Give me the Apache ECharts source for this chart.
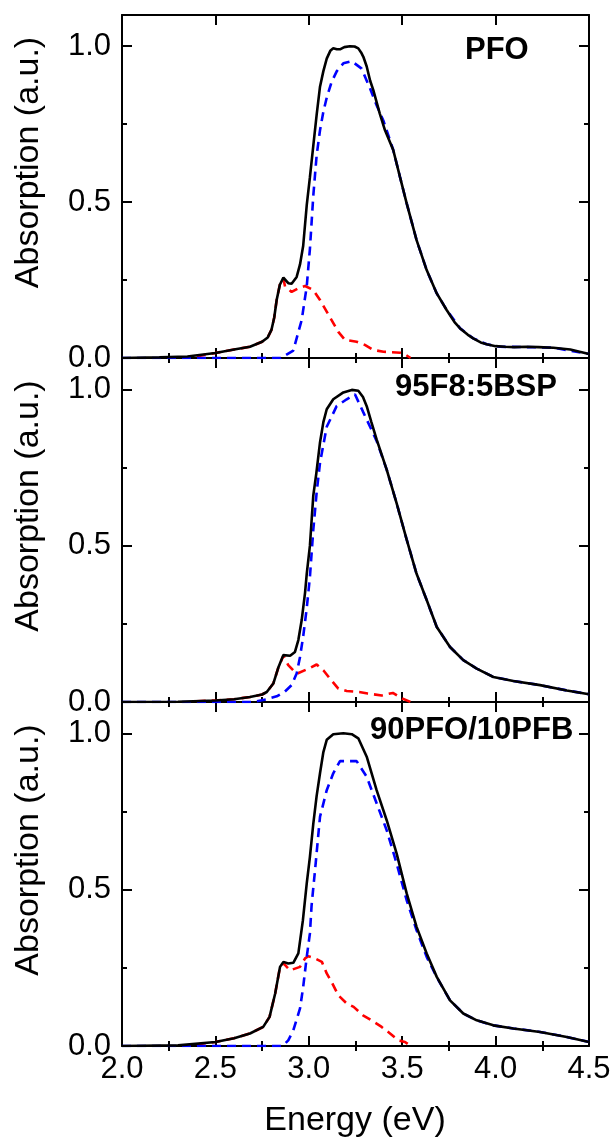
<!DOCTYPE html>
<html>
<head>
<meta charset="utf-8">
<script src="https://cdn.jsdelivr.net/npm/echarts@6/dist/echarts.min.js"></script>
<style>
html,body{margin:0;padding:0;background:#fff;}
#chart{width:616px;height:1143px;}
</style>
</head>
<body>
<div id="chart"></div>
<script>
// ---- tick values ----
const xMajorTicks = [2.0, 2.5, 3.0, 3.5, 4.0, 4.5];
const xMinorTicks = [2.25, 2.75, 3.25, 3.75, 4.25];
const yMajorTicks = [0.0, 0.5, 1.0];
const yMinorTicks = [0.25, 0.75];
const panelLabels = ['PFO', '95F8:5BSP', '90PFO/10PFB'];

// ---- Panel 1: PFO ----
const pfoTotal = [[2.0,0.0],[2.2,0.002],[2.35,0.005],[2.5,0.016],[2.6,0.027],[2.685,0.036],[2.75,0.052],[2.78,0.066],[2.80,0.09],[2.815,0.13],[2.828,0.186],[2.845,0.235],[2.864,0.258],[2.89,0.24],[2.908,0.238],[2.935,0.26],[2.953,0.30],[2.97,0.36],[2.989,0.49],[3.006,0.58],[3.024,0.68],[3.042,0.78],[3.06,0.87],[3.078,0.92],[3.096,0.96],[3.115,0.985],[3.131,0.993],[3.15,0.99],[3.167,0.99],[3.19,0.997],[3.22,1.0],[3.245,0.999],[3.265,0.993],[3.28,0.98],[3.292,0.966],[3.31,0.935],[3.328,0.89],[3.345,0.86],[3.38,0.784],[3.408,0.73],[3.452,0.667],[3.488,0.581],[3.524,0.496],[3.577,0.378],[3.631,0.282],[3.685,0.207],[3.738,0.154],[3.78,0.115],[3.81,0.095],[3.85,0.075],[3.88,0.063],[3.92,0.05],[3.952,0.044],[4.0,0.038],[4.05,0.036],[4.1,0.035],[4.166,0.036],[4.23,0.035],[4.309,0.033],[4.4,0.027],[4.45,0.02],[4.5,0.013]];
const pfoMain = [[2.0,0.0],[2.85,0.0],[2.917,0.024],[2.962,0.122],[2.989,0.23],[3.006,0.35],[3.024,0.52],[3.042,0.65],[3.06,0.73],[3.078,0.79],[3.096,0.835],[3.122,0.885],[3.15,0.92],[3.185,0.945],[3.23,0.952],[3.283,0.928],[3.328,0.864],[3.36,0.815],[3.40,0.76],[3.452,0.667],[3.488,0.581],[3.524,0.496],[3.577,0.378],[3.631,0.282],[3.685,0.207],[3.738,0.154],[3.81,0.095],[3.88,0.063],[3.952,0.044],[4.024,0.036],[4.166,0.035],[4.309,0.033],[4.5,0.013]];
const pfoBeta = [[2.4,0.005],[2.5,0.016],[2.6,0.027],[2.685,0.036],[2.75,0.052],[2.78,0.066],[2.80,0.09],[2.815,0.13],[2.828,0.186],[2.845,0.235],[2.864,0.255],[2.873,0.229],[2.908,0.212],[2.95,0.225],[2.98,0.231],[3.024,0.218],[3.06,0.186],[3.158,0.084],[3.194,0.058],[3.256,0.052],[3.30,0.042],[3.345,0.026],[3.40,0.02],[3.49,0.017],[3.506,0.015],[3.545,0.0]];

// ---- Panel 2: 95F8:5BSP ----
const bspTotal = [[2.0,0.0],[2.3,0.001],[2.5,0.005],[2.6,0.009],[2.685,0.016],[2.75,0.024],[2.775,0.032],[2.81,0.059],[2.838,0.112],[2.864,0.15],[2.9,0.148],[2.926,0.16],[2.944,0.198],[2.962,0.262],[2.98,0.35],[2.989,0.41],[3.006,0.50],[3.024,0.66],[3.04,0.73],[3.06,0.83],[3.078,0.895],[3.096,0.936],[3.131,0.968],[3.185,0.99],[3.23,0.998],[3.265,0.995],[3.29,0.975],[3.31,0.946],[3.335,0.895],[3.363,0.84],[3.417,0.743],[3.47,0.636],[3.524,0.519],[3.577,0.41],[3.631,0.326],[3.685,0.24],[3.756,0.176],[3.827,0.134],[3.899,0.107],[3.988,0.08],[4.095,0.067],[4.238,0.054],[4.381,0.037],[4.5,0.025]];
const bspMain = [[2.0,0.0],[2.70,0.0],[2.77,0.008],[2.828,0.018],[2.87,0.032],[2.908,0.054],[2.935,0.091],[2.953,0.144],[2.97,0.21],[2.989,0.30],[3.006,0.40],[3.024,0.55],[3.042,0.67],[3.06,0.765],[3.096,0.88],[3.149,0.946],[3.203,0.968],[3.247,0.984],[3.292,0.926],[3.328,0.88],[3.363,0.835],[3.417,0.743],[3.47,0.636],[3.524,0.519],[3.577,0.41],[3.631,0.326],[3.685,0.24],[3.756,0.176],[3.827,0.134],[3.899,0.107],[3.988,0.08],[4.095,0.067],[4.238,0.054],[4.381,0.037],[4.5,0.025]];
const bspBeta = [[2.4,0.002],[2.5,0.005],[2.6,0.009],[2.685,0.016],[2.75,0.024],[2.775,0.032],[2.81,0.059],[2.838,0.112],[2.864,0.148],[2.89,0.118],[2.935,0.09],[3.0,0.107],[3.042,0.12],[3.08,0.10],[3.113,0.075],[3.158,0.043],[3.203,0.035],[3.27,0.032],[3.315,0.027],[3.39,0.021],[3.45,0.029],[3.50,0.011],[3.545,0.0]];

// ---- Panel 3: 90PFO/10PFB ----
const pfbTotal = [[2.0,0.0],[2.3,0.002],[2.5,0.013],[2.6,0.025],[2.685,0.04],[2.756,0.061],[2.79,0.093],[2.82,0.168],[2.846,0.253],[2.864,0.269],[2.89,0.264],[2.917,0.266],[2.944,0.296],[2.968,0.40],[2.989,0.52],[3.006,0.605],[3.024,0.71],[3.042,0.80],[3.06,0.872],[3.078,0.94],[3.096,0.979],[3.131,0.997],[3.185,1.0],[3.23,0.997],[3.265,0.984],[3.31,0.925],[3.363,0.818],[3.417,0.722],[3.47,0.616],[3.524,0.488],[3.577,0.381],[3.631,0.296],[3.685,0.221],[3.756,0.146],[3.827,0.104],[3.899,0.082],[3.988,0.066],[4.095,0.056],[4.238,0.045],[4.381,0.029],[4.5,0.013]];
const pfbMain = [[2.0,0.0],[2.86,0.0],[2.89,0.018],[2.917,0.05],[2.953,0.12],[2.97,0.189],[2.989,0.285],[3.006,0.36],[3.015,0.45],[3.033,0.56],[3.06,0.733],[3.096,0.818],[3.131,0.872],[3.167,0.911],[3.256,0.911],[3.31,0.861],[3.363,0.776],[3.417,0.69],[3.47,0.584],[3.524,0.466],[3.577,0.37],[3.631,0.285],[3.685,0.22],[3.756,0.146],[3.827,0.104],[3.899,0.082],[3.988,0.066],[4.095,0.056],[4.238,0.045],[4.381,0.029],[4.5,0.013]];
const pfbBeta = [[2.4,0.005],[2.5,0.013],[2.6,0.025],[2.685,0.04],[2.756,0.061],[2.79,0.093],[2.82,0.168],[2.846,0.253],[2.864,0.265],[2.882,0.253],[2.9,0.242],[2.953,0.253],[2.98,0.28],[2.997,0.287],[3.033,0.28],[3.07,0.269],[3.096,0.232],[3.122,0.205],[3.158,0.162],[3.203,0.136],[3.24,0.125],[3.29,0.098],[3.336,0.082],[3.39,0.061],[3.435,0.04],[3.48,0.018],[3.515,0.013],[3.545,0.0]];

const totals = [pfoTotal, bspTotal, pfbTotal];
const mains = [pfoMain, bspMain, pfbMain];
const betas = [pfoBeta, bspBeta, pfbBeta];

// ---- layout ----
const gridTops = [15, 358, 702];
const gridHeights = [343, 344, 344];
const labelPos = [[465, 53], [395, 390], [370, 733]];
const FONT = '"Liberation Sans", Arial, sans-serif';

const grids = [], xAxes = [], yAxes = [], series = [], graphics = [];
const tickStyle = {color: '#000', width: 2};

for (let i = 0; i < 3; i++) {
  grids.push({left: 122, width: 467, top: gridTops[i], height: gridHeights[i], containLabel: false});
  const xBase = {gridIndex: i, type: 'value', min: 2.0, max: 4.5, splitLine: {show: false}};
  xAxes.push(Object.assign({}, xBase, {
    position: 'bottom',
    axisLine: {show: true, onZero: false, lineStyle: tickStyle},
    axisTick: {show: true, inside: true, length: 10, lineStyle: tickStyle, customValues: xMajorTicks},
    axisLabel: {show: i === 2, customValues: xMajorTicks, formatter: v => v.toFixed(1),
      fontSize: 31, color: '#000', fontFamily: FONT, margin: 8}
  }));
  xAxes.push(Object.assign({}, xBase, {
    position: 'bottom',
    axisLine: {show: false},
    axisTick: {show: true, inside: true, length: 5, lineStyle: tickStyle, customValues: xMinorTicks},
    axisLabel: {show: false}
  }));
  xAxes.push(Object.assign({}, xBase, {
    position: 'top',
    axisLine: {show: true, onZero: false, lineStyle: tickStyle},
    axisTick: {show: true, inside: true, length: 10, lineStyle: tickStyle, customValues: xMajorTicks},
    axisLabel: {show: false}
  }));
  xAxes.push(Object.assign({}, xBase, {
    position: 'top',
    axisLine: {show: false},
    axisTick: {show: true, inside: true, length: 5, lineStyle: tickStyle, customValues: xMinorTicks},
    axisLabel: {show: false}
  }));

  const yBase = {gridIndex: i, type: 'value', min: 0, max: 1.1, splitLine: {show: false}};
  yAxes.push(Object.assign({}, yBase, {
    position: 'left',
    axisLine: {show: true, onZero: false, lineStyle: tickStyle},
    axisTick: {show: true, inside: true, length: 10, lineStyle: tickStyle, customValues: yMajorTicks},
    axisLabel: {show: true, customValues: yMajorTicks, formatter: v => v.toFixed(1),
      fontSize: 31, color: '#000', fontFamily: FONT, margin: 11}
  }));
  yAxes.push(Object.assign({}, yBase, {
    position: 'left',
    axisLine: {show: false},
    axisTick: {show: true, inside: true, length: 5, lineStyle: tickStyle, customValues: yMinorTicks},
    axisLabel: {show: false}
  }));
  yAxes.push(Object.assign({}, yBase, {
    position: 'right',
    axisLine: {show: true, onZero: false, lineStyle: tickStyle},
    axisTick: {show: true, inside: true, length: 10, lineStyle: tickStyle, customValues: yMajorTicks},
    axisLabel: {show: false}
  }));
  yAxes.push(Object.assign({}, yBase, {
    position: 'right',
    axisLine: {show: false},
    axisTick: {show: true, inside: true, length: 5, lineStyle: tickStyle, customValues: yMinorTicks},
    axisLabel: {show: false}
  }));

  const xi = i * 4, yi = i * 4;
  series.push({type: 'line', xAxisIndex: xi, yAxisIndex: yi, data: betas[i], showSymbol: false, symbol: 'none',
    lineStyle: {color: '#ff0000', width: 2.6, type: [9, 6]}, z: 2, animation: false, silent: true});
  series.push({type: 'line', xAxisIndex: xi, yAxisIndex: yi, data: mains[i], showSymbol: false, symbol: 'none',
    lineStyle: {color: '#0000ff', width: 2.6, type: [9, 6]}, z: 3, animation: false, silent: true});
  series.push({type: 'line', xAxisIndex: xi, yAxisIndex: yi, data: totals[i], showSymbol: false, symbol: 'none',
    lineStyle: {color: '#000000', width: 2.6}, z: 4, animation: false, silent: true});

  graphics.push({type: 'text', left: labelPos[i][0], top: labelPos[i][1] - 18, z: 10,
    style: {text: panelLabels[i], font: 'bold 31px ' + FONT, fill: '#000'}});
  const midY = gridTops[i] + gridHeights[i] / 2 - 24;
  graphics.push({type: 'text', x: 29, y: midY, rotation: Math.PI / 2, z: 10,
    style: {text: 'Absorption (a.u.)', font: '34px ' + FONT, fill: '#000', textAlign: 'center', textVerticalAlign: 'middle'}});
}
graphics.push({type: 'text', x: 355, y: 1121, z: 10,
  style: {text: 'Energy (eV)', font: '34px ' + FONT, fill: '#000', textAlign: 'center', textVerticalAlign: 'middle'}});

const chart = echarts.init(document.getElementById('chart'), null, {renderer: 'canvas'});
chart.setOption({
  backgroundColor: '#fff',
  animation: false,
  grid: grids,
  xAxis: xAxes,
  yAxis: yAxes,
  series: series,
  graphic: graphics
});
</script>
</body>
</html>
